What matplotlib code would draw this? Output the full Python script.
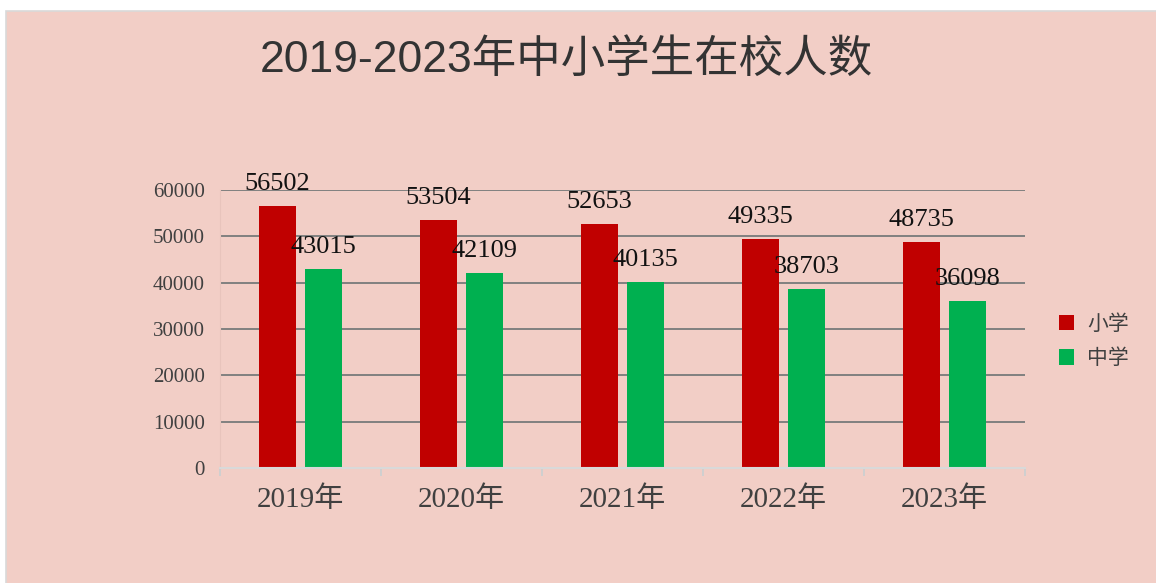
"""
Bar chart: 2019-2023 primary / middle school enrolment
"""
import matplotlib.pyplot as plt
import numpy as np
from matplotlib.patches import Rectangle

years = ['2019年', '2020年', '2021年', '2022年', '2023年']
primary = [56502, 53504, 52653, 49335, 48735]
middle = [43015, 42109, 40135, 38703, 36098]
series_names = ['小学', '中学']
y_ticks = [0, 10000, 20000, 30000, 40000, 50000, 60000]

bg = '#F2CEC6'
red = '#C00000'
green = '#00B050'
serif = ['Liberation Serif', 'Noto Sans CJK SC']

fig = plt.figure(figsize=(11.56, 5.83), dpi=100)
fig.patch.set_facecolor('white')
# pink chart area with a thin grey border on top / left
fig.patches.append(Rectangle((6 / 1156, -0.05), 1.1, 1.05 - 11 / 583, transform=fig.transFigure,
                             facecolor=bg, edgecolor='#D9D9D9', lw=1.2, zorder=-5))

ax = fig.add_axes([220 / 1156, 1 - 468 / 583, 805 / 1156, 278 / 583])
ax.set_facecolor('none')

x = np.arange(len(years))
off, w = 0.142, 0.23
b1 = ax.bar(x - off, primary, w, color=red, label=series_names[0], zorder=3)
b2 = ax.bar(x + off, middle, w, color=green, label=series_names[1], zorder=3)

for bars, vals in ((b1, primary), (b2, middle)):
    for rect, v in zip(bars, vals):
        ax.annotate(str(v), (rect.get_x() + rect.get_width() / 2, v),
                    xytext=(0, 11.5), textcoords='offset points',
                    ha='center', va='baseline', fontsize=19,
                    family=serif, color='#111111', zorder=4)

ax.set_xlim(-0.5, len(years) - 0.5)
ax.set_ylim(0, 60000)
ax.set_yticks(y_ticks)
ax.set_yticklabels([str(t) for t in y_ticks], family=serif, fontsize=15, color='#404040')
ax.yaxis.grid(True, color='#808080', lw=1.4, zorder=1)
ax.tick_params(axis='y', length=0, pad=11)

ax.set_xticks(x)
ax.set_xticklabels(years, family=serif, fontsize=21, color='#404040')
ax.set_xticks(np.arange(-0.5, len(years)), minor=True)
ax.tick_params(axis='x', which='major', length=0, pad=13)
ax.tick_params(axis='x', which='minor', length=6, color='#D0D0D0', width=1.4)

for s in ('top', 'right'):
    ax.spines[s].set_visible(False)
ax.spines['left'].set_color('#E8C4BC')
ax.spines['left'].set_linewidth(0.8)
ax.spines['bottom'].set_color('#D9D9D9')
ax.spines['bottom'].set_linewidth(1.5)
ax.spines['bottom'].set_zorder(5)

leg = fig.legend(loc='center left', bbox_to_anchor=(1040 / 1156, 1 - 341 / 583),
                 frameon=False, prop={'family': ['Noto Sans CJK SC'], 'size': 15},
                 handlelength=0.75, handleheight=0.75, handletextpad=0.6, labelspacing=0.6)
for t in leg.get_texts():
    t.set_color('#404040')

fig.text(566 / 1156, 1 - 60 / 583, '2019-2023年中小学生在校人数', ha='center', va='center',
         fontsize=32, family=['Liberation Sans', 'Noto Sans CJK SC'], color='#333333')

fig.savefig('out.png', dpi=100, facecolor=fig.get_facecolor())
